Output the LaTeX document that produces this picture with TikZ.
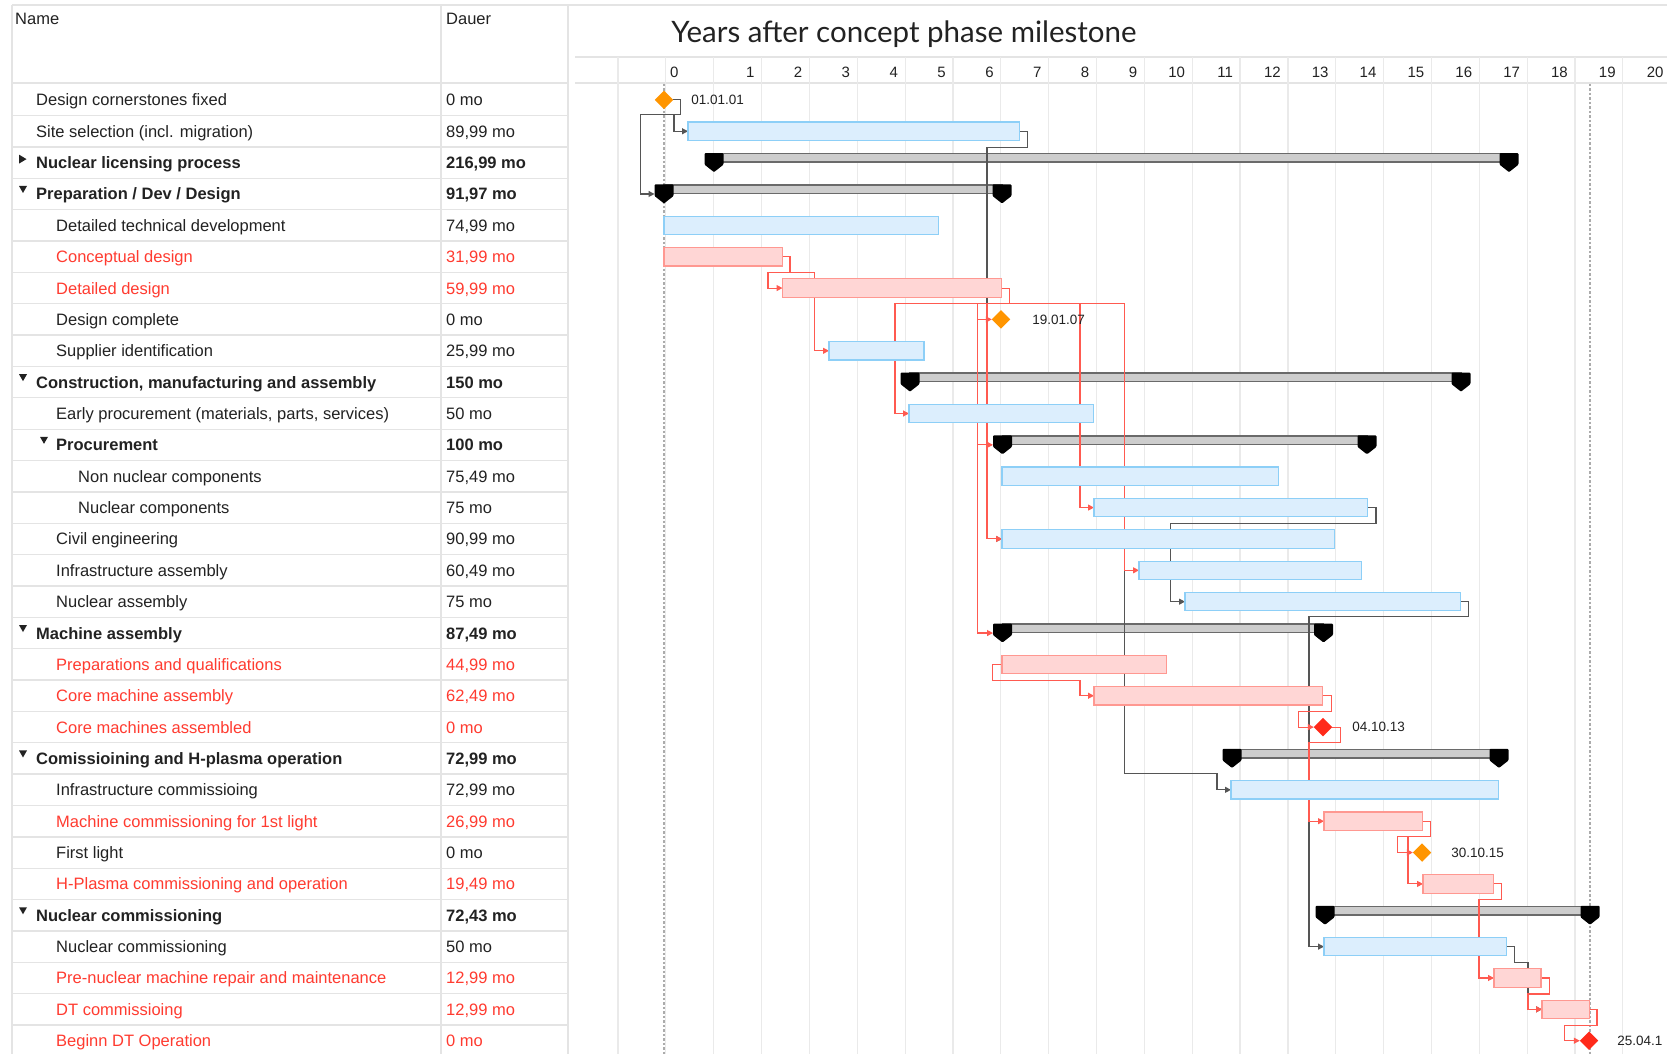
\documentclass[tikz,border=0pt]{standalone}
\usepackage{fontspec}
\setmainfont{Liberation Sans}
\newfontfamily\titlefont{Lato}
\usetikzlibrary{arrows.meta, positioning, shapes.geometric}

\definecolor{textdark}{HTML}{222222}
\definecolor{crit}{HTML}{FF3B30}
\definecolor{rulegray}{HTML}{E4E4E4}
\definecolor{gridgray}{HTML}{EAEAEA}
\definecolor{dotgray}{HTML}{ABABAB}
\definecolor{taskfill}{HTML}{DCEEFD}
\definecolor{taskdraw}{HTML}{8DCFF7}
\definecolor{critfill}{HTML}{FFD6D5}
\definecolor{critdraw}{HTML}{FF9891}
\definecolor{sumfill}{HTML}{CDCDCD}
\definecolor{sumdraw}{HTML}{6A6A6A}
\definecolor{linkgray}{HTML}{555555}
\definecolor{critline}{HTML}{FF5A50}
\definecolor{mileorange}{HTML}{FF9500}
\definecolor{milered}{HTML}{FF2A1A}

% summary bar: name, row, start, end
\newcommand{\sumbar}[4]{%
  \node[sumbox, minimum width={#4-#3+19}] (#1) at ({#3-9.5},{ry(#2)}) {};
  \draw[sumdraw, fill=sumfill, line width=1.5pt] (#3,{ry(#2)-9}) rectangle (#4,{ry(#2)-0.5});
  \foreach \cx in {#3,#4}
    \fill[black, rounded corners=1pt] ({\cx-9.5},{ry(#2)-9.5}) -- ({\cx+9.5},{ry(#2)-9.5})
      -- ({\cx+9.5},{ry(#2)+2}) -- (\cx,{ry(#2)+9.5}) -- ({\cx-9.5},{ry(#2)+2}) -- cycle;
}

\begin{document}
\begin{tikzpicture}[
  x=1pt, y=-1pt,
  declare function={ry(\i)=99.9+31.36*(\i-1);},
  cell/.style = {anchor=base west, inner sep=0, font=\fontsize{16.5}{19}\selectfont},
  tick/.style = {inner sep=0, font=\fontsize{15}{18}\selectfont, text=textdark},
  date/.style = {inner sep=0, font=\fontsize{13.5}{16}\selectfont, text=textdark},
  tablerule/.style = {draw=rulegray, line width=1.3pt},
  gline/.style = {draw=gridgray, line width=1.2pt},
  slot/.style = {minimum height=18pt, inner sep=0, anchor=west},
  mile/.style = {diamond, minimum size=18pt, inner sep=0},
  sumbox/.style = {inner sep=0, minimum height=20pt, anchor=west},
  link/.style = {draw=linkgray, line width=1.1pt, -{Triangle[length=6pt, width=6pt]}},
  critlink/.style = {link, draw=critline}
]
\useasboundingbox[fill=white] (0,0) rectangle (1667,1054);

% table frame
\draw[tablerule] (12,5) -- (1667,5);
\draw[tablerule] (12,5) -- (12,1054);
\draw[tablerule] (441,5) -- (441,1054);
\draw[tablerule] (568,5) -- (568,1054);
\draw[tablerule] (12,83) -- (568,83);
\foreach \rw in {1,...,30}
  \draw[tablerule] (12,{ry(\rw)+15.68}) -- (568,{ry(\rw)+15.68});

% timeline header and grid
\draw[tablerule] (575,57) -- (1667,57);
\draw[tablerule] (575,83) -- (1667,83);
\foreach \k in {0,...,21}
  \draw[gline] ({618+47.85*\k},57) -- ({618+47.85*\k},1054);
\draw[dotgray, line width=1.3pt, dash pattern=on 2.5pt off 2pt] (664,84) -- (664,1054);
\draw[dotgray, line width=1.3pt, dash pattern=on 2.5pt off 2pt] (1590,84) -- (1590,1054);
\node[font=\titlefont\fontsize{29.5}{34}\selectfont, text=textdark] (title) at (904,34) {Years after concept phase milestone};
\node[tick, anchor=west] (t0) at (670,72) {0};
\foreach \n in {1,...,20}
  \node[tick, anchor=east] (t\n) at ({618+47.85*(\n+2)-7},72) {\n};

% header
\node[cell, text=textdark] (hname) at (15,24.5) {Name};
\node[cell, text=textdark] (hdur) at (446,24.5) {Dauer};

% table rows
\foreach \rw/\ix/\clr/\fnt/\txt/\dur in {
  1/36/textdark/\mdseries/{Design cornerstones fixed}/{0 mo},
  2/36/textdark/\mdseries/{Site selection (incl. migration)}/{89,99 mo},
  3/36/textdark/\bfseries/{Nuclear licensing process}/{216,99 mo},
  4/36/textdark/\bfseries/{Preparation / Dev / Design}/{91,97 mo},
  5/56/textdark/\mdseries/{Detailed technical development}/{74,99 mo},
  6/56/crit/\mdseries/{Conceptual design}/{31,99 mo},
  7/56/crit/\mdseries/{Detailed design}/{59,99 mo},
  8/56/textdark/\mdseries/{Design complete}/{0 mo},
  9/56/textdark/\mdseries/{Supplier identification}/{25,99 mo},
  10/36/textdark/\bfseries/{Construction, manufacturing and assembly}/{150 mo},
  11/56/textdark/\mdseries/{Early procurement (materials, parts, services)}/{50 mo},
  12/56/textdark/\bfseries/{Procurement}/{100 mo},
  13/78/textdark/\mdseries/{Non nuclear components}/{75,49 mo},
  14/78/textdark/\mdseries/{Nuclear components}/{75 mo},
  15/56/textdark/\mdseries/{Civil engineering}/{90,99 mo},
  16/56/textdark/\mdseries/{Infrastructure assembly}/{60,49 mo},
  17/56/textdark/\mdseries/{Nuclear assembly}/{75 mo},
  18/36/textdark/\bfseries/{Machine assembly}/{87,49 mo},
  19/56/crit/\mdseries/{Preparations and qualifications}/{44,99 mo},
  20/56/crit/\mdseries/{Core machine assembly}/{62,49 mo},
  21/56/crit/\mdseries/{Core machines assembled}/{0 mo},
  22/36/textdark/\bfseries/{Comissioining and H-plasma operation}/{72,99 mo},
  23/56/textdark/\mdseries/{Infrastructure commissioing}/{72,99 mo},
  24/56/crit/\mdseries/{Machine commissioning for 1st light}/{26,99 mo},
  25/56/textdark/\mdseries/{First light}/{0 mo},
  26/56/crit/\mdseries/{H-Plasma commissioning and operation}/{19,49 mo},
  27/36/textdark/\bfseries/{Nuclear commissioning}/{72,43 mo},
  28/56/textdark/\mdseries/{Nuclear commissioning}/{50 mo},
  29/56/crit/\mdseries/{Pre-nuclear machine repair and maintenance}/{12,99 mo},
  30/56/crit/\mdseries/{DT commissioing}/{12,99 mo},
  31/56/crit/\mdseries/{Beginn DT Operation}/{0 mo}}
{
  \node[cell, text=\clr] (n\rw) at (\ix,{ry(\rw)+6}) {\fnt\txt};
  \node[cell, text=\clr] (d\rw) at (446,{ry(\rw)+6}) {\fnt\dur};
}

% expand / collapse marks
\fill[textdark] (19,{ry(3)-8}) -- (19,{ry(3)+1}) -- (26.5,{ry(3)-3.5}) -- cycle;
\foreach \rw in {4,10,18,22,27}
  \fill[textdark] (19,{ry(\rw)-8}) -- (27,{ry(\rw)-8}) -- (23,{ry(\rw)-1}) -- cycle;
\fill[textdark] (40,{ry(12)-8}) -- (48,{ry(12)-8}) -- (44,{ry(12)-1}) -- cycle;

% summary bars
\sumbar{licensing}{3}{714}{1509}
\sumbar{prep}{4}{664}{1002}
\sumbar{constr}{10}{910}{1461}
\sumbar{procure}{12}{1002.5}{1367}
\sumbar{machass}{18}{1002.5}{1323.5}
\sumbar{comiss}{22}{1232}{1499}
\sumbar{nuccomsum}{27}{1325}{1590}

% milestones
\node[mile] (m1) at (664,{ry(1)}) {};
\node[mile] (m8) at (1001,{ry(8)}) {};
\node[mile] (m21) at (1323,{ry(21)}) {};
\node[mile] (m25) at (1422,{ry(25)}) {};
\node[mile] (m31) at (1589,{ry(31)}) {};

% task slots (filled in after the links)
\node[slot, minimum width=331pt] (site) at (688,{ry(2)}) {};
\node[slot, minimum width=274pt] (dtd) at (664,{ry(5)}) {};
\node[slot, minimum width=118pt] (concept) at (664,{ry(6)}) {};
\node[slot, minimum width=218.5pt] (detdes) at (782.5,{ry(7)}) {};
\node[slot, minimum width=94.5pt] (supplier) at (829,{ry(9)}) {};
\node[slot, minimum width=184pt] (early) at (909,{ry(11)}) {};
\node[slot, minimum width=276pt] (nonnuc) at (1002,{ry(13)}) {};
\node[slot, minimum width=273pt] (nuccomp) at (1094,{ry(14)}) {};
\node[slot, minimum width=332pt] (civil) at (1002,{ry(15)}) {};
\node[slot, minimum width=222pt] (infra) at (1139,{ry(16)}) {};
\node[slot, minimum width=275pt] (nucass) at (1185,{ry(17)}) {};
\node[slot, minimum width=164pt] (prepq) at (1002,{ry(19)}) {};
\node[slot, minimum width=228pt] (coremach) at (1094,{ry(20)}) {};
\node[slot, minimum width=267pt] (infracom) at (1231,{ry(23)}) {};
\node[slot, minimum width=98pt] (machcom) at (1324,{ry(24)}) {};
\node[slot, minimum width=70pt] (hplasma) at (1423,{ry(26)}) {};
\node[slot, minimum width=182pt] (nuccom) at (1324,{ry(28)}) {};
\node[slot, minimum width=46.5pt] (prenuc) at (1494,{ry(29)}) {};
\node[slot, minimum width=47pt] (dtcom) at (1542,{ry(30)}) {};

% links
\draw[link] (m1.east) -- ++(7,0) -- ++(0,15) -| ([xshift=-14pt]site.west) -- (site.west);
\draw[link] (m1.east) -- ++(7,0) -- ++(0,15) -| ([xshift=-14pt]prep.west) -- (prep.west);
\draw[link] (site.east) -- ++(8,0) -- ++(0,16) -| ([xshift=-15pt]civil.west) -- (civil.west);
\draw[link] (detdes.east) -- ++(8,0) -- ++(0,15) -| ([xshift=-106.4pt, yshift=16pt]infracom.west) -| ([xshift=-14pt]infracom.west) -- (infracom.west);
\draw[link] (nuccomp.east) -- ++(8.6,0) -- ++(0,16) -| ([xshift=-14.5pt]nucass.west) -- (nucass.west);
\draw[link] (nucass.east) -- ++(8,0) -- ++(0,15) -| ([xshift=-15pt]nuccom.west) -- (nuccom.west);
\draw[link] (nuccom.east) -- ++(8,0) -- ++(0,16) -| ([xshift=-14pt]dtcom.west) -- (dtcom.west);

% critical links
\draw[critlink] (concept.east) -- ++(7.6,0) -- ++(0,16) -| ([xshift=-14.5pt]detdes.west) -- (detdes.west);
\draw[critlink] (concept.east) -- ++(7.6,0) -- ++(0,16) -| ([xshift=-14.5pt]supplier.west) -- (supplier.west);
\draw[critlink] (detdes.east) -- ++(8,0) -- ++(0,15) -| ([xshift=-14pt]early.west) -- (early.west);
\draw[critlink] (detdes.east) -- ++(8,0) -- ++(0,15) -| ([xshift=-14.3pt]m8.west) -- (m8.west);
\draw[critlink] (detdes.east) -- ++(8,0) -- ++(0,15) -| ([xshift=-15.3pt]procure.west) -- (procure.west);
\draw[critlink] (detdes.east) -- ++(8,0) -- ++(0,15) -| ([xshift=-15.3pt]machass.west) -- (machass.west);
\draw[critlink] (detdes.east) -- ++(8,0) -- ++(0,15) -| ([xshift=-15pt]civil.west) -- (civil.west);
\draw[critlink] (detdes.east) -- ++(8,0) -- ++(0,15) -| ([xshift=-14pt]nuccomp.west) -- (nuccomp.west);
\draw[critlink] (detdes.east) -- ++(8,0) -- ++(0,15) -| ([xshift=-14.4pt]infra.west) -- (infra.west);
\draw[critlink] (prepq.west) -- ++(-9.5,0) -- ++(0,16) -| ([xshift=-14pt]coremach.west) -- (coremach.west);
\draw[critlink] (coremach.east) -- ++(9.5,0) -- ++(0,16) -| ([xshift=-15pt]m21.west) -- (m21.west);
\draw[critlink] (m21.east) -- ++(8,0) -- ++(0,15) -| ([xshift=-15pt]machcom.west) -- (machcom.west);
\draw[critlink] (machcom.east) -- ++(8,0) -- ++(0,15) -| ([xshift=-15pt]m25.west) -- (m25.west);
\draw[critlink] (machcom.east) -- ++(8,0) -- ++(0,15) -| ([xshift=-15pt]hplasma.west) -- (hplasma.west);
\draw[critlink] (hplasma.east) -- ++(7.7,0) -- ++(0,16) -| ([xshift=-15pt]prenuc.west) -- (prenuc.west);
\draw[critlink] (prenuc.east) -- ++(8.5,0) -- ++(0,16) -| ([xshift=-14pt]dtcom.west) -- (dtcom.west);
\draw[critlink] (dtcom.east) -- ++(7.6,0) -- ++(0,16) -| ([xshift=-15pt]m31.west) -- (m31.west);

% bars and milestones on top of the links
\foreach \tb in {site, dtd, supplier, early, nonnuc, nuccomp, civil, infra, nucass, infracom, nuccom}
  \draw[taskdraw, fill=taskfill, line width=1.2pt] (\tb.north west) rectangle (\tb.south east);
\foreach \tb in {concept, detdes, prepq, coremach, machcom, hplasma, prenuc, dtcom}
  \draw[critdraw, fill=critfill, line width=1.2pt] (\tb.north west) rectangle (\tb.south east);
\foreach \ms/\mc in {m1/mileorange, m8/mileorange, m21/milered, m25/mileorange, m31/milered}
  \fill[\mc] (\ms.north) -- (\ms.east) -- (\ms.south) -- (\ms.west) -- cycle;

% milestone dates
\node[date, right=18pt of m1] (l1) {01.01.01};
\node[date, right=22pt of m8] (l8) {19.01.07};
\node[date, right=20pt of m21] (l21) {04.10.13};
\node[date, right=20pt of m25] (l25) {30.10.15};
\node[date, right=19pt of m31] (l31) {25.04.1};
\end{tikzpicture}
\end{document}
